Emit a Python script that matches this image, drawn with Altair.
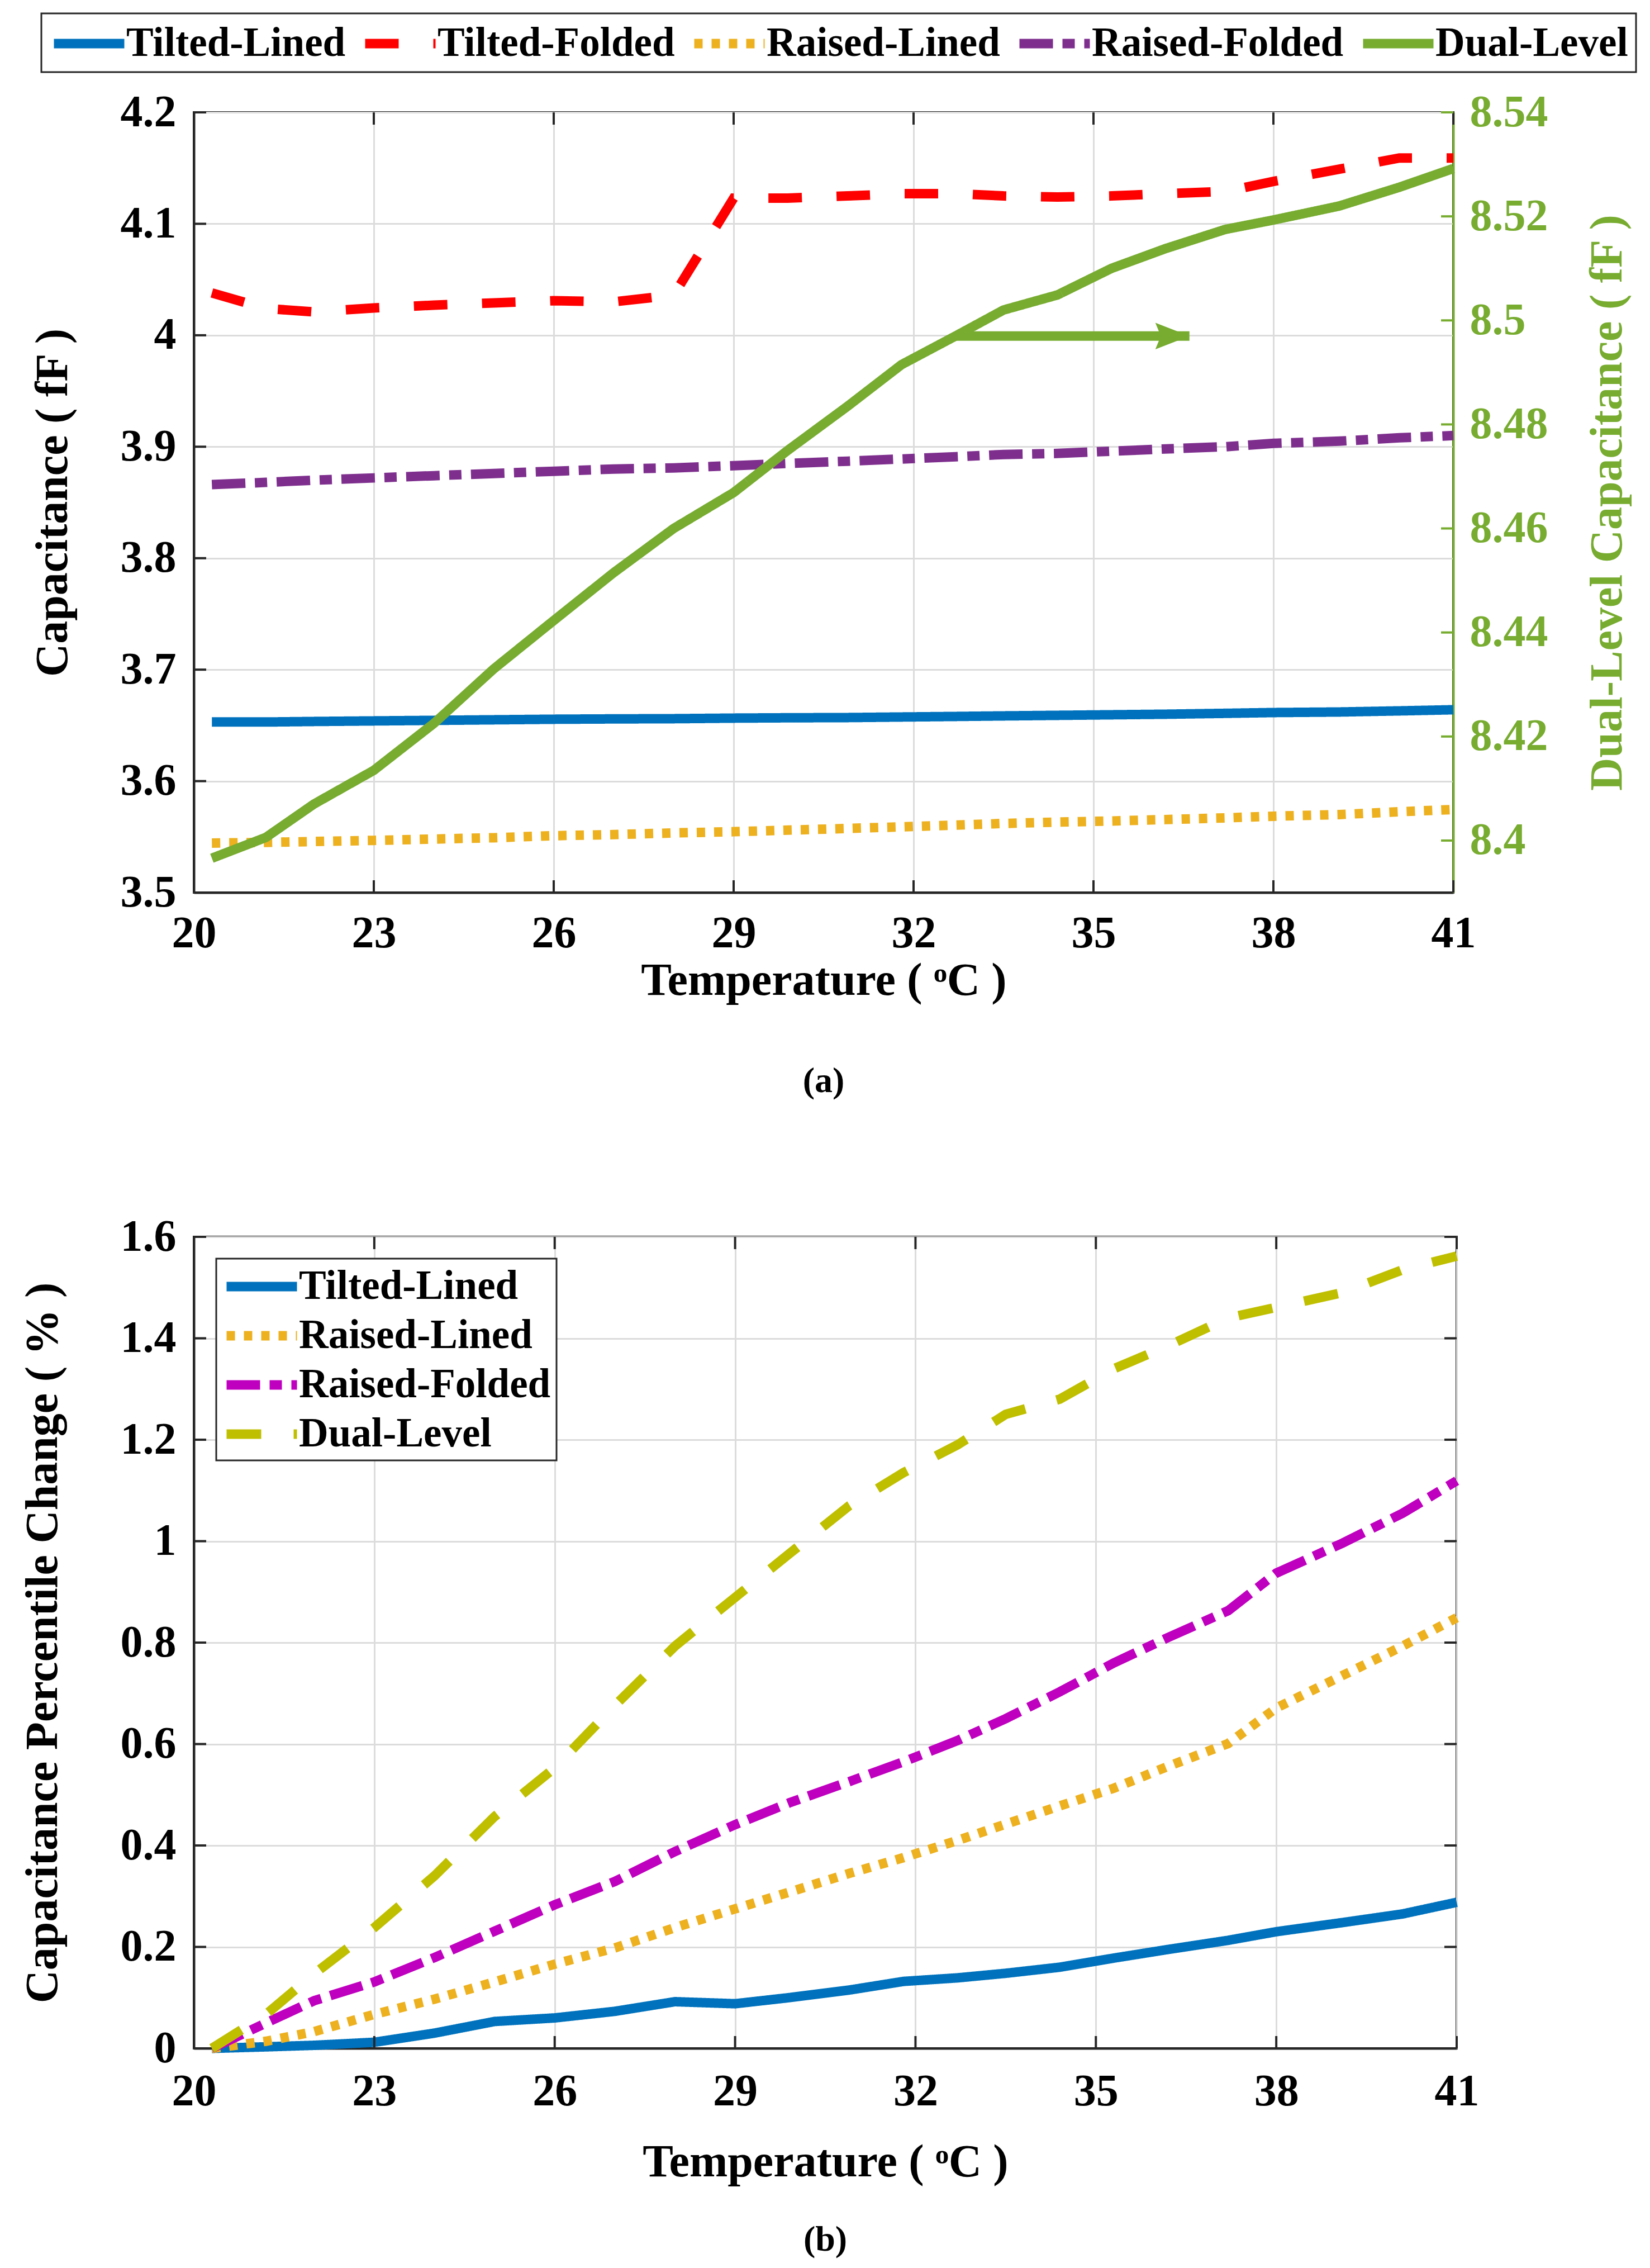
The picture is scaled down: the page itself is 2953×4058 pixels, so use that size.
import altair as alt
import pandas as pd

# simulation temperatures (deg C), shared by both panels
temps = [20.3, 21.2, 22.0, 23.0, 24.0, 25.0, 26.0, 27.0, 28.0, 29.0, 29.9,
         30.9, 31.8, 32.7, 33.5, 34.4, 35.3, 36.2, 37.2, 38.0, 39.1, 40.1, 41.0]

# panel (a): capacitance in fF
cap_tilted_lined = [3.653, 3.653, 3.6535, 3.654, 3.6545, 3.655, 3.6555, 3.6558,
                    3.656, 3.6565, 3.6568, 3.657, 3.6575, 3.658, 3.6585, 3.659,
                    3.6595, 3.660, 3.6608, 3.6615, 3.662, 3.663, 3.664]
cap_tilted_folded = [4.038, 4.024, 4.021, 4.0245, 4.027, 4.029, 4.031, 4.030,
                     4.036, 4.123, 4.123, 4.125, 4.127, 4.127, 4.125, 4.124,
                     4.125, 4.127, 4.129, 4.138, 4.149, 4.159, 4.159]
cap_raised_lined = [3.5444, 3.5450, 3.5458, 3.5468, 3.548, 3.5492, 3.551, 3.552,
                    3.5535, 3.5546, 3.556, 3.5575, 3.559, 3.5605, 3.562, 3.5632,
                    3.5642, 3.5655, 3.567, 3.5685, 3.570, 3.5725, 3.5745]
cap_raised_folded = [3.866, 3.868, 3.870, 3.872, 3.874, 3.876, 3.878, 3.880,
                     3.881, 3.883, 3.885, 3.887, 3.889, 3.891, 3.893, 3.894,
                     3.896, 3.898, 3.900, 3.903, 3.905, 3.908, 3.910]
# dual-level is read on the right axis
cap_dual_level = [8.3966, 8.4006, 8.407, 8.4135, 8.4225, 8.433, 8.4423, 8.4515,
                  8.46, 8.4669, 8.475, 8.4835, 8.4915, 8.497, 8.502, 8.5049,
                  8.51, 8.5138, 8.5175, 8.5193, 8.522, 8.5256, 8.5292]

# panel (b): capacitance percentile change in %
pct_tilted_lined = [0, 0.003, 0.006, 0.012, 0.03, 0.053, 0.06, 0.073, 0.092,
                    0.088, 0.1, 0.115, 0.132, 0.139, 0.148, 0.16, 0.178, 0.195,
                    0.213, 0.23, 0.248, 0.265, 0.288]
pct_raised_lined = [0, 0.014, 0.033, 0.067, 0.097, 0.131, 0.166, 0.198, 0.238,
                    0.275, 0.308, 0.345, 0.376, 0.41, 0.442, 0.478, 0.513, 0.556,
                    0.601, 0.671, 0.735, 0.793, 0.849]
pct_raised_folded = [0, 0.05, 0.094, 0.131, 0.179, 0.231, 0.283, 0.329, 0.388,
                     0.441, 0.484, 0.526, 0.565, 0.607, 0.65, 0.703, 0.76, 0.81,
                     0.863, 0.937, 0.996, 1.055, 1.119]
pct_dual_level = [0, 0.067, 0.147, 0.238, 0.34, 0.457, 0.553, 0.676, 0.793,
                  0.889, 0.975, 1.07, 1.135, 1.19, 1.25, 1.28, 1.34, 1.385,
                  1.44, 1.461, 1.49, 1.535, 1.562]

# axis ticks
x_ticks = [20, 23, 26, 29, 32, 35, 38, 41]
cap_ticks = [3.5, 3.6, 3.7, 3.8, 3.9, 4.0, 4.1, 4.2]
dual_ticks = [8.40, 8.42, 8.44, 8.46, 8.48, 8.50, 8.52, 8.54]
pct_ticks = [0, 0.2, 0.4, 0.6, 0.8, 1.0, 1.2, 1.4, 1.6]

# arrow pointing to the right axis
arrow_temps = [32.7, 36.6]
arrow_level = [8.497, 8.497]

names_a = ["Tilted-Lined", "Tilted-Folded", "Raised-Lined", "Raised-Folded", "Dual-Level"]
colors_a = ["#0072BD", "#FF0000", "#EDB120", "#7E2F8E", "#77AC30"]
dashes_a = [[1, 0], [60, 62], [15, 16], [60, 17, 22, 17], [1, 0]]

names_b = ["Tilted-Lined", "Raised-Lined", "Raised-Folded", "Dual-Level"]
colors_b = ["#0072BD", "#EDB120", "#BF00BF", "#BFBF00"]
dashes_b = [[1, 0], [15, 16], [60, 17, 22, 17], [62, 58]]

FONT = "Liberation Serif"
BLACK = "#262626"
GREEN = "#77AC30"
W_A, H_A = 2254, 1396
W_B, H_B = 2260, 1452
TICK = 22
LW = 17


def long_table(names, columns):
    rows = []
    for name, vals in zip(names, columns):
        for t, v in zip(temps, vals):
            rows.append({"temp": t, "value": v, "series": name})
    return pd.DataFrame(rows)


df_left = long_table(names_a[:4], [cap_tilted_lined, cap_tilted_folded,
                                   cap_raised_lined, cap_raised_folded])
df_dual = long_table(["Dual-Level"], [cap_dual_level])
df_b = long_table(names_b, [pct_tilted_lined, pct_raised_lined,
                            pct_raised_folded, pct_dual_level])

x_scale = alt.Scale(domain=[20, 41], nice=False, zero=False)
cap_scale = alt.Scale(domain=[3.5, 4.2], nice=False, zero=False)
dual_scale = alt.Scale(domain=[8.39, 8.54], nice=False, zero=False)
pct_scale = alt.Scale(domain=[0, 1.6], nice=False, zero=False)

legend_a = alt.Legend(orient="none", legendX=-273, legendY=-177,
                      direction="horizontal", columns=5, columnPadding=0,
                      padding=14, title=None)
legend_b = alt.Legend(orient="none", legendX=40, legendY=39,
                      direction="vertical", rowPadding=11, padding=10, title=None)

color_a = alt.Color("series:N", scale=alt.Scale(domain=names_a, range=colors_a), legend=legend_a)
dash_a = alt.StrokeDash("series:N", scale=alt.Scale(domain=names_a, range=dashes_a), legend=legend_a)
color_b = alt.Color("series:N", scale=alt.Scale(domain=names_b, range=colors_b), legend=legend_b)
dash_b = alt.StrokeDash("series:N", scale=alt.Scale(domain=names_b, range=dashes_b), legend=legend_b)


def x_enc(title, label_pad, title_pad):
    return alt.X("temp:Q", scale=x_scale,
                 axis=alt.Axis(values=x_ticks, format="d", title=title, grid=True,
                               labelPadding=label_pad, titlePadding=title_pad))


def inner_x_ticks(h):
    base = alt.Chart(pd.DataFrame({"temp": x_ticks})).mark_rule(color=BLACK, strokeWidth=4)
    bottom = base.encode(x=alt.X("temp:Q", scale=x_scale), y=alt.value(h), y2=alt.value(h - TICK))
    top = base.encode(x=alt.X("temp:Q", scale=x_scale), y=alt.value(0), y2=alt.value(TICK))
    return bottom + top


def inner_y_ticks(values, scale, x0, x1, color):
    return alt.Chart(pd.DataFrame({"value": values})).mark_rule(
        color=color, strokeWidth=4
    ).encode(y=alt.Y("value:Q", scale=scale), x=alt.value(x0), x2=alt.value(x1))


# ---- panel (a) ----
left_lines = alt.Chart(df_left).mark_line(strokeWidth=LW, strokeCap="butt").encode(
    x=x_enc("Temperature ( \u1d52C )", 34, 4),
    y=alt.Y("value:Q", scale=cap_scale,
            axis=alt.Axis(values=cap_ticks, format="~g", grid=True,
                          title="Capacitance ( fF )", labelPadding=32, titlePadding=79)),
    color=color_a,
    strokeDash=dash_a,
)
left_group = alt.layer(left_lines, inner_x_ticks(H_A),
                       inner_y_ticks(cap_ticks, cap_scale, 0, TICK, BLACK))

dual_line = alt.Chart(df_dual).mark_line(strokeWidth=LW, strokeCap="butt").encode(
    x=alt.X("temp:Q", scale=x_scale),
    y=alt.Y("value:Q", scale=dual_scale,
            axis=alt.Axis(orient="right", values=dual_ticks, format="~g", grid=False,
                          title="Dual-Level Capacitance ( fF )", titleAngle=270,
                          titleBaseline="top", labelColor=GREEN, titleColor=GREEN,
                          domainColor=GREEN, labelPadding=29, titlePadding=66)),
    color=color_a,
    strokeDash=dash_a,
)
arrow_df = pd.DataFrame({"temp": arrow_temps, "value": arrow_level})
arrow_shaft = alt.Chart(arrow_df).mark_line(color=GREEN, strokeWidth=LW).encode(
    x=alt.X("temp:Q", scale=x_scale), y=alt.Y("value:Q", scale=dual_scale))
arrow_head = alt.Chart(arrow_df.tail(1)).mark_point(
    shape="M 0 0 L -1 -0.39 L -0.84 0 L -1 0.39 Z", filled=True, size=14884,
    color=GREEN, opacity=1
).encode(x=alt.X("temp:Q", scale=x_scale), y=alt.Y("value:Q", scale=dual_scale))
right_group = alt.layer(dual_line, arrow_shaft, arrow_head,
                        inner_y_ticks(dual_ticks, dual_scale, W_A, W_A - TICK, GREEN))

chart_a = alt.layer(left_group, right_group).resolve_scale(y="independent").properties(
    width=W_A, height=H_A,
    title=alt.TitleParams("(a)", orient="bottom", font=FONT, fontSize=64,
                          fontWeight="bold", color="black", offset=108,
                          frame="group", anchor="middle"),
)

# ---- panel (b) ----
lines_b = alt.Chart(df_b).mark_line(strokeWidth=LW, strokeCap="butt").encode(
    x=x_enc("Temperature ( \u1d52C )", 38, 46),
    y=alt.Y("value:Q", scale=pct_scale,
            axis=alt.Axis(values=pct_ticks, format="~g", grid=True,
                          title="Capacitance Percentile Change ( % )",
                          labelPadding=32, titlePadding=97)),
    color=color_b,
    strokeDash=dash_b,
)
chart_b = alt.layer(
    lines_b, inner_x_ticks(H_B),
    inner_y_ticks(pct_ticks, pct_scale, 0, TICK, BLACK),
    inner_y_ticks(pct_ticks, pct_scale, W_B, W_B - TICK, BLACK),
).properties(
    width=W_B, height=H_B,
    title=alt.TitleParams("(b)", orient="bottom", font=FONT, fontSize=64,
                          fontWeight="bold", color="black", offset=67,
                          frame="group", anchor="middle"),
)

chart = alt.vconcat(chart_a, chart_b, spacing=202).resolve_scale(
    color="independent", strokeDash="independent"
).properties(
    padding={"left": 25, "top": 12, "right": 0, "bottom": 5}, background="white"
).configure_axis(
    labelFont=FONT, labelFontSize=80, labelFontWeight="bold", labelColor="black",
    titleFont=FONT, titleFontSize=82, titleFontWeight="bold", titleColor="black",
    gridColor="#dcdcdc", gridWidth=3, domainColor=BLACK, domainWidth=4,
    ticks=False, tickSize=0, labelFlush=False, labelOverlap=False,
).configure_legend(
    labelFont=FONT, labelFontSize=73, labelFontWeight="bold", labelColor="black",
    labelLimit=1000, labelOffset=58, symbolType="M -1 0 L 3 0", symbolSize=3969,
    symbolStrokeWidth=LW, strokeColor=BLACK, strokeWidth=3, fillColor="white",
).configure_view(stroke=BLACK, strokeWidth=4)

chart.save("out.html", embed_options={"renderer": "svg", "actions": False})
